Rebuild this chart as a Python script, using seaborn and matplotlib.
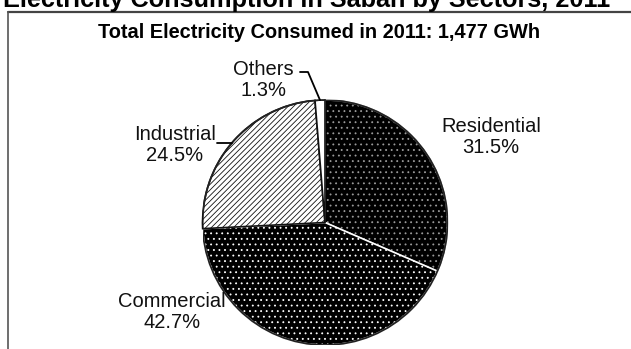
import matplotlib
matplotlib.use("Agg")
import matplotlib.pyplot as plt
import seaborn as sns
import numpy as np
from matplotlib.lines import Line2D
from matplotlib.patches import Circle

sectors = ["Residential", "Commercial", "Industrial", "Others"]
shares = [31.5, 42.7, 24.5, 1.3]
title = "Electricity Consumption in Sabah by Sectors, 2011"
subtitle = "Total Electricity Consumed in 2011: 1,477 GWh"

sns.set_theme(style="white")
plt.rcParams["font.family"] = ["Liberation Sans", "DejaVu Sans"]
plt.rcParams["hatch.linewidth"] = 0.6

W, H = 631, 349
fig = plt.figure(figsize=(W / 100, H / 100), dpi=100)
fig.patch.set_facecolor("white")

# pie centre / radius in pixels
cx, cy, r = 325, 222.5, 122.5
ax = fig.add_axes([(cx - r) / W, (H - cy - r) / H, 2 * r / W, 2 * r / H])

faces = ["black", "black", "white", "white"]
edges = ["#9a9a9a", "white", "#111111", "#111111"]
hatches = ["...", "...", "//////", ""]

wedges, _ = ax.pie(shares, startangle=90, counterclock=False, radius=1,
                   wedgeprops=dict(linewidth=1.2))
for w, fc, ec, h in zip(wedges, faces, edges, hatches):
    w.set_facecolor(fc)
    w.set_edgecolor(ec)
    w.set_hatch(h)
ax.add_patch(Circle((0, 0), 1, fill=False, edgecolor="#222222", lw=1.3))
ax.set_xlim(-1, 1)
ax.set_ylim(-1, 1)
ax.axis("off")

def px(x, y):
    return (x - cx) / r, (cy - y) / r

label_pos = {"Residential": (491, 137), "Commercial": (172, 312),
             "Industrial": (175, 145), "Others": (263, 80)}
for name, val in zip(sectors, shares):
    x, y = px(*label_pos[name])
    ax.text(x, y, f"{name}\n{val}%", ha="center", va="center", fontsize=14.5,
            linespacing=1.15, color="#111111", clip_on=False)

# leader lines
w = wedges[3]
mid = np.deg2rad((w.theta1 + w.theta2) / 2)
p0, p1 = px(300, 72), px(308, 72)
ax.plot([p0[0], p1[0], np.cos(mid)], [p0[1], p1[1], np.sin(mid)],
        color="black", lw=1.3, clip_on=False)
q0, q1 = px(217, 143), px(232, 143)
ax.plot([q0[0], q1[0]], [q0[1], q1[1]], color="black", lw=1.3, clip_on=False)

# frame
fig.add_artist(Line2D([8 / W, 1], [1 - 11.5 / H, 1 - 11.5 / H], color="#444444", lw=1.6))
fig.add_artist(Line2D([8 / W, 8 / W], [0, 1 - 11.5 / H], color="#555555", lw=1.2))

fig.text(3 / W, 1 - 7.5 / H, title, ha="left", va="baseline", fontsize=18.2,
         fontweight="bold", color="black")
fig.text(319 / W, 1 - 33 / H, subtitle, ha="center", va="center", fontsize=14.4,
         fontweight="bold", color="black")

fig.savefig("out.png", dpi=100, facecolor="white")
